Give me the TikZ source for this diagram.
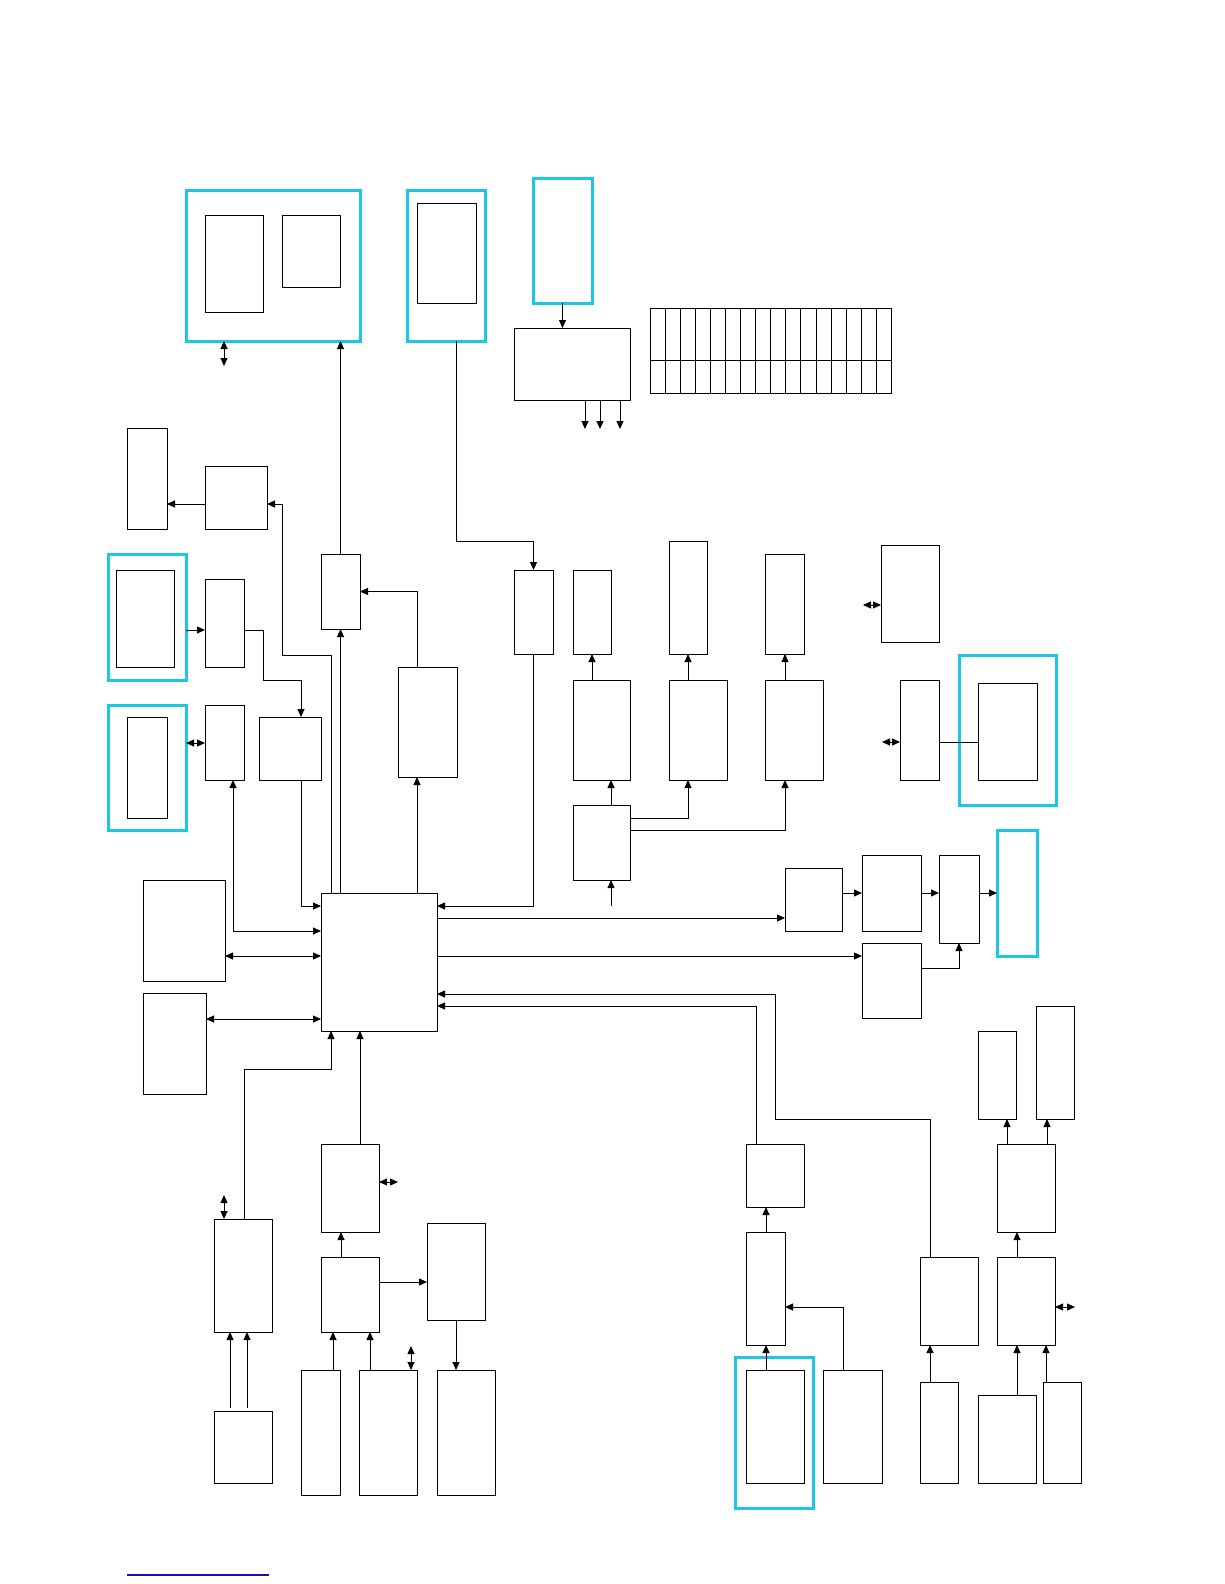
\documentclass[tikz,border=0pt]{standalone}
\usetikzlibrary{arrows.meta}
\definecolor{cyanbox}{RGB}{28,198,228}
\definecolor{linkblue}{RGB}{20,20,170}
\newcommand\mkbox[6][]{%
  \pgfmathsetmacro\bxw{#5-#3}%
  \pgfmathsetmacro\bxh{#6-#4}%
  \node[blk,#1,minimum width=\bxw pt,minimum height=\bxh pt,anchor=north west] (#2) at (#3,#4) {};%
}
\begin{document}
\begin{tikzpicture}[x=1pt,y=-1pt,
  blk/.style={draw=black,line width=1pt,rectangle,inner sep=0pt,outer sep=0pt,fill=none},
  cy/.style={draw=cyanbox,line width=3pt},
  ln/.style={draw=black,line width=0.9pt},
  ar/.style={ln,-{Triangle[length=8pt,width=7pt]}},
  dar/.style={ln,{Triangle[length=8pt,width=7pt]}-{Triangle[length=8pt,width=7pt]}}]
\useasboundingbox[fill=white] (0,0) rectangle (1224,1584);
% ---- boxes
\mkbox[cy]{A}{186}{190}{360}{341}
\mkbox{A1}{205}{215}{263}{312}
\mkbox{A2}{282}{215}{340}{287}
\mkbox[cy]{B}{407}{190}{485}{341}
\mkbox{B1}{417}{203}{476}{303}
\mkbox[cy]{C}{533}{178}{592}{303}
\mkbox{D}{514}{328}{630}{400}
\mkbox{E}{127}{428}{167}{529}
\mkbox{F}{205}{466}{267}{529}
\mkbox{G}{321}{554}{360}{629}
\mkbox{H}{398}{667}{457}{777}
\mkbox[cy]{I}{108}{554}{186}{680}
\mkbox{I1}{116}{570}{174}{667}
\mkbox{J}{205}{579}{244}{667}
\mkbox{K}{259}{717}{321}{780}
\mkbox[cy]{L}{108}{705}{186}{830}
\mkbox{L1}{127}{717}{167}{818}
\mkbox{N}{205}{705}{244}{780}
\mkbox{M}{321}{893}{437}{1031}
\mkbox{O}{143}{880}{225}{981}
\mkbox{P}{143}{993}{206}{1094}
\mkbox{U}{514}{570}{553}{654}
\mkbox{Va}{573}{570}{611}{654}
\mkbox{Vb}{669}{541}{707}{654}
\mkbox{Vc}{765}{554}{804}{654}
\mkbox{Ma}{573}{680}{630}{780}
\mkbox{Mb}{669}{680}{727}{780}
\mkbox{Mc}{765}{680}{823}{780}
\mkbox{V}{573}{805}{630}{880}
\mkbox{NN}{881}{545}{939}{642}
\mkbox{OO}{900}{680}{939}{780}
\mkbox[cy]{W}{959}{655}{1056}{805}
\mkbox{W1}{978}{683}{1037}{780}
\mkbox{S}{785}{868}{842}{931}
\mkbox{X}{862}{855}{921}{931}
\mkbox{Y}{939}{855}{979}{943}
\mkbox[cy]{Z}{997}{830}{1037}{956}
\mkbox{T}{862}{943}{921}{1018}
\mkbox{Q}{214}{1219}{272}{1332}
\mkbox{Qb}{214}{1411}{272}{1483}
\mkbox{R}{321}{1144}{379}{1232}
\mkbox{Sb}{321}{1257}{379}{1332}
\mkbox{Tb}{427}{1223}{485}{1320}
\mkbox{Ub}{301}{1370}{340}{1495}
\mkbox{Vd}{359}{1370}{417}{1495}
\mkbox{Wb}{437}{1370}{495}{1495}
\mkbox{BB}{746}{1144}{804}{1207}
\mkbox{CC}{746}{1232}{785}{1345}
\mkbox{DD}{823}{1370}{882}{1483}
\mkbox[cy]{EE}{735}{1357}{813}{1508}
\mkbox{EE1}{746}{1370}{804}{1483}
\mkbox{AA}{920}{1257}{978}{1345}
\mkbox{FF}{920}{1382}{958}{1483}
\mkbox{GG}{997}{1257}{1055}{1345}
\mkbox{HH}{978}{1395}{1036}{1483}
\mkbox{II}{1043}{1382}{1081}{1483}
\mkbox{JJ}{997}{1144}{1055}{1232}
\mkbox{KK}{978}{1031}{1016}{1119}
\mkbox{LL}{1036}{1006}{1074}{1119}
% ---- grid
\node[blk,minimum width=241pt,minimum height=84.7pt,anchor=north west] (grid) at (650.3,308.3) {};
\draw[ln] (grid.west |- 0,360.3) -- (grid.east |- 0,360.3);
\foreach \k in {1,...,15}{\draw[ln] ({650.3+15.0625*\k},0 |- grid.north) -- ({650.3+15.0625*\k},0 |- grid.south);}
% ---- free ends
\coordinate (fa) at (224,366);
\coordinate (fq) at (224,1195);
\coordinate (fr) at (398,1182);
\coordinate (fv) at (411,1346);
\coordinate (fg) at (1075,1307);
\coordinate (fn) at (863,605);
\coordinate (fo) at (882,742);
\coordinate (fv0) at (611,906);
\coordinate (d1) at (585,429);
\coordinate (d2) at (600,429);
\coordinate (d3) at (620,429);
% ---- connectors, top area
\draw[dar] (fa |- A.south) -- (fa);
\draw[ar] (C.south) -- (C.south |- D.north);
\draw[ar] (d1 |- D.south) -- (d1);
\draw[ar] (d2 |- D.south) -- (d2);
\draw[ar] (d3 |- D.south) -- (d3);
\draw[ar] (G.north) -- (G.north |- A.south);
\draw[ar] (M.north -| G.south) -- (G.south);
\draw[ar] (417,0 |- H.north) |- (G.east);
\draw[ar] (417,0 |- M.north) -- (417,0 |- H.south);
\draw[ar] (331,0 |- M.north) -- (331,655) -- (282,655) -- (282,504) -- (F.east |- 0,504);
\draw[ar] (F.west |- 0,504) -- (E.east |- 0,504);
\draw[ar] (I.east |- 0,630) -- (J.west |- 0,630);
\draw[ar] (J.east |- 0,630) -- (263,630) -- (263,680) -- (301,680) -- (301,0 |- K.north);
\draw[ar] (301,0 |- K.south) |- (M.west |- 0,906);
\draw[dar] (L.east |- 0,743) -- (N.west |- 0,743);
\draw[dar] (233,0 |- N.south) |- (M.west |- 0,931);
\draw[dar] (O.east |- 0,956) -- (M.west |- 0,956);
\draw[dar] (P.east |- 0,1019) -- (M.west |- 0,1019);
\draw[ar] (456,0 |- B.south) -- (456,541) -| (U.north);
\draw[ar] (U.south) |- (M.east |- 0,906);
% middle group
\draw[ar] (592,0 |- Ma.north) -- (592,0 |- Va.south);
\draw[ar] (688,0 |- Mb.north) -- (688,0 |- Vb.south);
\draw[ar] (785,0 |- Mc.north) -- (785,0 |- Vc.south);
\draw[ar] (fv0 |- V.north) -- (fv0 |- Ma.south);
\draw[ar] (fv0) -- (fv0 |- V.south);
\draw[ar] (V.east |- 0,818) -- (688,818) -- (688,0 |- Mb.south);
\draw[ar] (V.east |- 0,830) -- (785,830) -- (785,0 |- Mc.south);
\draw[dar] (fn) -- (fn -| NN.west);
\draw[dar] (fo) -- (fo -| OO.west);
\draw[ln] (OO.east |- 0,742) -- (W1.west |- 0,742);
% right chain
\draw[ar] (M.east |- 0,918) -- (S.west |- 0,918);
\draw[ar] (S.east |- 0,893) -- (X.west |- 0,893);
\draw[ar] (X.east |- 0,893) -- (Y.west |- 0,893);
\draw[ar] (Y.east |- 0,893) -- (Z.west |- 0,893);
\draw[ar] (M.east |- 0,956) -- (T.west |- 0,956);
\draw[ar] (T.east |- 0,968) -- (959,968) -- (959,0 |- Y.south);
\draw[ar] (930,0 |- AA.north) -- (930,1119) -- (775,1119) -- (775,994) -- (M.east |- 0,994);
\draw[ar] (756,0 |- BB.north) -- (756,1006) -- (M.east |- 0,1006);
% bottom right
\draw[ar] (766,0 |- CC.north) -- (766,0 |- BB.south);
\draw[ar] (766,0 |- EE1.north) -- (766,0 |- CC.south);
\draw[ar] (843,0 |- DD.north) -- (843,1307) -- (CC.east |- 0,1307);
\draw[ar] (930,0 |- FF.north) -- (930,0 |- AA.south);
\draw[ar] (1017,0 |- HH.north) -- (1017,0 |- GG.south);
\draw[ar] (1046,0 |- II.north) -- (1046,0 |- GG.south);
\draw[ar] (1017,0 |- GG.north) -- (1017,0 |- JJ.south);
\draw[ar] (1007,0 |- JJ.north) -- (1007,0 |- KK.south);
\draw[ar] (1047,0 |- JJ.north) -- (1047,0 |- LL.south);
\draw[dar] (GG.east |- fg) -- (fg);
% bottom left
\draw[ar] (244,0 |- Q.north) -- (244,1069) -- (331,1069) -- (331,0 |- M.south);
\draw[ar] (360,0 |- R.north) -- (360,0 |- M.south);
\draw[dar] (fq) -- (fq |- Q.north);
\draw[ar] (230,1408) -- (230,0 |- Q.south);
\draw[ar] (247,1408) -- (247,0 |- Q.south);
\draw[dar] (R.east |- fr) -- (fr);
\draw[ar] (341,0 |- Sb.north) -- (341,0 |- R.south);
\draw[ar] (Sb.east |- 0,1282) -- (Tb.west |- 0,1282);
\draw[ar] (456,0 |- Tb.south) -- (456,0 |- Wb.north);
\draw[ar] (333,0 |- Ub.north) -- (333,0 |- Sb.south);
\draw[ar] (370,0 |- Vd.north) -- (370,0 |- Sb.south);
\draw[dar] (fv) -- (fv |- Vd.north);
% link underline
\coordinate (u1) at (127,1575);
\coordinate (u2) at (269,1575);
\draw[linkblue,line width=1.2pt] (u1) -- (u2);
\end{tikzpicture}
\end{document}
